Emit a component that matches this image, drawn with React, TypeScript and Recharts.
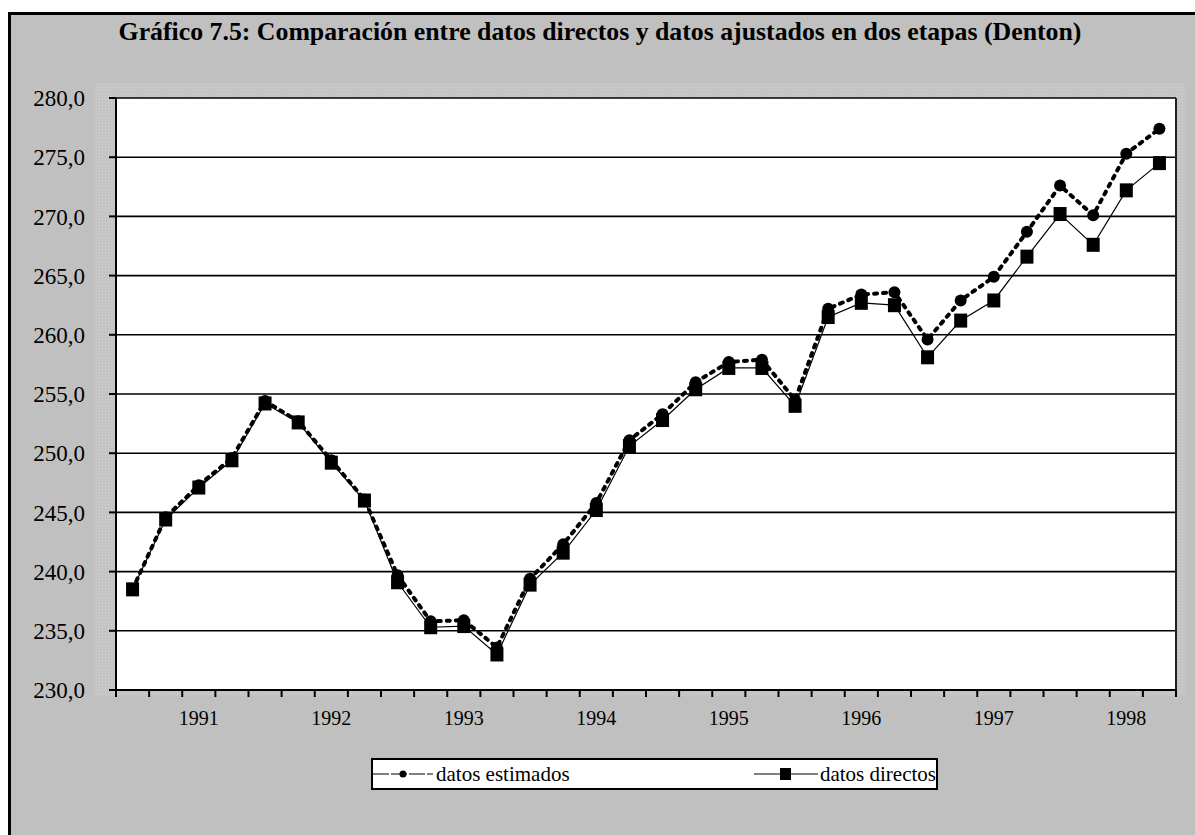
import { LineChart, Line, XAxis, YAxis, CartesianGrid, ReferenceLine } from 'recharts';

// quarterly categories, 1990 III .. 1998 II
const quarters = [
  '1990-III', '1990-IV',
  '1991-I', '1991-II', '1991-III', '1991-IV',
  '1992-I', '1992-II', '1992-III', '1992-IV',
  '1993-I', '1993-II', '1993-III', '1993-IV',
  '1994-I', '1994-II', '1994-III', '1994-IV',
  '1995-I', '1995-II', '1995-III', '1995-IV',
  '1996-I', '1996-II', '1996-III', '1996-IV',
  '1997-I', '1997-II', '1997-III', '1997-IV',
  '1998-I', '1998-II',
];

const estimados = [
  238.5, 244.6, 247.3, 249.6, 254.4, 252.7, 249.4, 246.1,
  239.7, 235.8, 235.9, 233.6, 239.4, 242.3, 245.8, 251.1,
  253.3, 256.0, 257.7, 257.9, 254.5, 262.2, 263.4, 263.6,
  259.6, 262.9, 264.9, 268.7, 272.6, 270.1, 275.3, 277.4,
];

const directos = [
  238.5, 244.4, 247.1, 249.4, 254.2, 252.6, 249.2, 246.0,
  239.1, 235.3, 235.4, 233.0, 238.9, 241.6, 245.2, 250.6,
  252.8, 255.4, 257.2, 257.2, 254.0, 261.5, 262.7, 262.5,
  258.1, 261.2, 262.9, 266.6, 270.2, 267.6, 272.2, 274.5,
];

const yTicks = [230, 235, 240, 245, 250, 255, 260, 265, 270, 275, 280];

const data = quarters.map((q, i) => ({ i, q, estimados: estimados[i], directos: directos[i] }));

// tick marks sit between categories, year labels under the first quarter
const boundaries = quarters.map((_, i) => i - 0.5).concat(quarters.length - 0.5);
const labelPos = quarters.map((q, i) => (q.endsWith('-I') ? i : -1)).filter((i) => i >= 0);
const xTicks = [...boundaries, ...labelPos].sort((a, b) => a - b);

const FONT = 'Liberation Serif, Times New Roman, serif';

const XTick = (props: any) => {
  const { x, y, payload } = props;
  const v = payload.value;
  if (Number.isInteger(v)) {
    return (
      <text x={x} y={y + 35} textAnchor='middle' fill='#000' fontSize={20} fontFamily={FONT}>
        {quarters[v].slice(0, 4)}
      </text>
    );
  }
  return <line x1={x} x2={x} y1={y} y2={y + 7} stroke='#000' strokeWidth={2} />;
};

const CircleDot = (props: any) => {
  const { cx, cy, index } = props;
  return <circle key={index} cx={cx} cy={cy} r={6} fill='#000' />;
};

const SquareDot = (props: any) => {
  const { cx, cy, index } = props;
  return <rect key={index} x={cx - 6.5} y={cy - 7} width={13} height={14} fill='#000' />;
};

export default function App() {
  return (
    <div
      style={{
        position: 'absolute',
        left: 0,
        top: 0,
        width: 1195,
        height: 835,
        overflow: 'hidden',
        fontFamily: FONT,
      }}
    >
      {/* gray chart area with black frame */}
      <div
        style={{
          position: 'absolute',
          left: 8,
          top: 12,
          width: 1200,
          height: 840,
          background: '#c0c0c0',
          borderTop: '3px solid #000',
          borderLeft: '3px solid #000',
        }}
      />
      {/* patterned plot area */}
      <div
        style={{
          position: 'absolute',
          left: 95,
          top: 83,
          width: 1090,
          height: 613,
          backgroundColor: '#c4c4c4',
          backgroundImage: 'radial-gradient(#d2d2d2 0.7px, transparent 0.9px)',
          backgroundSize: '3px 3px',
        }}
      />
      <div
        style={{
          position: 'absolute',
          left: 0,
          top: 17,
          width: 1200,
          textAlign: 'center',
          fontWeight: 'bold',
          fontSize: 25.8,
          lineHeight: '30px',
        }}
      >
        Gráfico 7.5: Comparación entre datos directos y datos ajustados en dos etapas (Denton)
      </div>

      <div style={{ position: 'absolute', left: 0, top: 0 }}>
        <LineChart
          width={1195}
          height={835}
          data={data}
          margin={{ top: 98, right: 19, bottom: 105, left: 16 }}
          style={{ fontFamily: FONT }}
        >
          <CartesianGrid vertical={false} stroke='#000' strokeWidth={1.6} fill='#fff' fillOpacity={1} />
          <XAxis
            type='number'
            dataKey='i'
            domain={[-0.5, quarters.length - 0.5]}
            ticks={xTicks}
            interval={0}
            tick={<XTick />}
            tickLine={false}
            tickSize={0}
            tickMargin={0}
            height={40}
            axisLine={{ stroke: '#000', strokeWidth: 2 }}
          />
          <YAxis
            domain={[230, 280]}
            ticks={yTicks}
            interval={0}
            width={100}
            tickSize={7}
            tickMargin={24}
            tickFormatter={(v: number) => v.toFixed(1).replace('.', ',')}
            tick={{ fill: '#000', fontSize: 23, fontFamily: FONT }}
            tickLine={{ stroke: '#000', strokeWidth: 2 }}
            axisLine={{ stroke: '#000', strokeWidth: 2 }}
          />
          <ReferenceLine x={quarters.length - 0.5} stroke='#222' strokeWidth={2} />
          <Line
            type='linear'
            dataKey='estimados'
            name='datos estimados'
            stroke='#000'
            strokeWidth={4}
            strokeDasharray='3 6'
            strokeLinecap='round'
            dot={<CircleDot />}
            activeDot={false}
            isAnimationActive={false}
          />
          <Line
            type='linear'
            dataKey='directos'
            name='datos directos'
            stroke='#000'
            strokeWidth={1.2}
            dot={<SquareDot />}
            activeDot={false}
            isAnimationActive={false}
          />
        </LineChart>
      </div>

      {/* legend */}
      <div
        style={{
          position: 'absolute',
          left: 371,
          top: 758,
          width: 563,
          height: 28,
          border: '2px solid #000',
          background: '#fff',
          display: 'flex',
          justifyContent: 'space-between',
          alignItems: 'center',
          fontSize: 21,
          lineHeight: '28px',
        }}
      >
        <span style={{ display: 'flex', alignItems: 'center' }}>
          <svg width={60} height={12}>
            <line x1={0} x2={60} y1={6} y2={6} stroke='#000' strokeWidth={1.2} strokeDasharray='16 2' />
            <circle cx={30} cy={6} r={3.5} fill='#000' />
          </svg>
          <span style={{ marginLeft: 3 }}>datos estimados</span>
        </span>
        <span style={{ display: 'flex', alignItems: 'center' }}>
          <svg width={64} height={14}>
            <line x1={0} x2={64} y1={7} y2={7} stroke='#000' strokeWidth={1.2} />
            <rect x={26} y={1} width={11} height={12} fill='#000' />
          </svg>
          <span style={{ marginLeft: 2 }}>datos directos</span>
        </span>
      </div>
    </div>
  );
}
